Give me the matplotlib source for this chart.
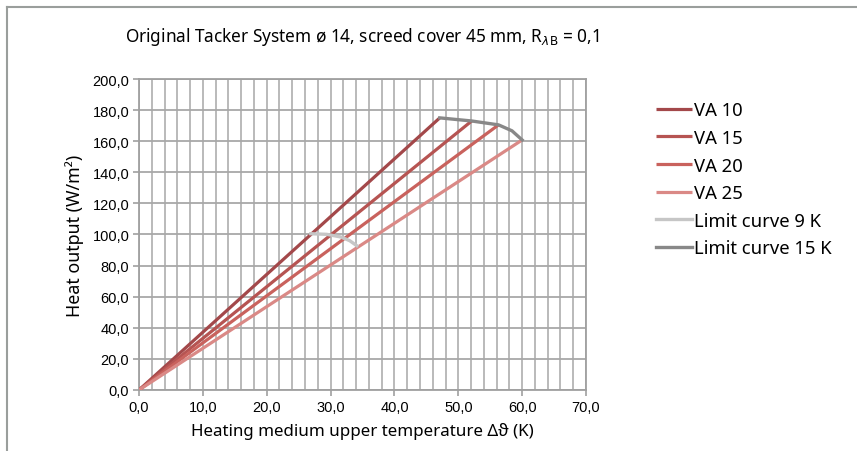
import numpy as np
import matplotlib
matplotlib.use('Agg')
import matplotlib.pyplot as plt
from matplotlib.lines import Line2D

plt.rcParams['font.family'] = ['Noto Sans', 'DejaVu Sans']

# end points of the heating lines (all start at the origin)
va_labels = ['VA 10', 'VA 15', 'VA 20', 'VA 25']
va_dt_end = [47.1, 52.1, 56.3, 60.0]
va_q_end = [175.0, 173.0, 170.5, 160.8]
va_colors = ['#a3484a', '#b65452', '#c9625d', '#da8986']

limit9_dt = [26.9, 29.4, 31.6, 33.0, 34.1]
limit9_q = [100.5, 100.1, 98.4, 96.0, 92.8]
limit15_dt = [47.1, 52.1, 56.3, 58.4, 60.0]
limit15_q = [175.0, 173.0, 170.5, 166.7, 160.8]

x_ticks = np.arange(0, 71, 10)
y_ticks = np.arange(0, 201, 20)

fig = plt.figure(figsize=(8.57, 4.52), dpi=100)
ax = fig.add_axes([0.1622, 0.135, 0.5216, 0.688])

for lab, x1, y1, c in zip(va_labels, va_dt_end, va_q_end, va_colors):
    ax.plot([0, x1], [0, y1], color=c, lw=2.3, label=lab, solid_capstyle='butt', zorder=3)
ax.plot(limit9_dt, limit9_q, color='#c6c6c6', lw=2.4, label='Limit curve 9 K', zorder=4)
ax.plot(limit15_dt, limit15_q, color='#888888', lw=2.4, label='Limit curve 15 K', zorder=4)

ax.set_xlim(0, 70)
ax.set_ylim(0, 200)
ax.set_xticks(x_ticks)
ax.set_xticks(np.arange(0, 71, 2), minor=True)
ax.set_yticks(y_ticks)
ax.set_xticklabels([f'{v:.1f}'.replace('.', ',') for v in x_ticks], family='Liberation Sans', fontsize=10.5)
ax.set_yticklabels([f'{v:.1f}'.replace('.', ',') for v in y_ticks], family='Liberation Sans', fontsize=10.5)
ax.grid(True, which='both', axis='x', color='#b4b4b4', lw=1.3)
ax.grid(True, which='major', axis='y', color='#a8a8a8', lw=1.3)
ax.tick_params(which='major', length=4, color='#a0a0a0', width=1.2, pad=3)
ax.tick_params(which='minor', length=0)
for s in ax.spines.values():
    s.set_color('#a0a0a0')
    s.set_linewidth(1.3)

ax.set_xlabel('Heating medium upper temperature Δϑ (K)', fontsize=12.2, labelpad=6)
ax.set_ylabel('Heat output (W/m²)', fontsize=12.8, labelpad=6)
fig.text(0.423, 0.918, r'Original Tacker System ø 14, screed cover 45 mm, R$_{\lambda\mathrm{B}}$ = 0,1',
         ha='center', va='center', fontsize=12.4)

fig.legend(loc='upper left', bbox_to_anchor=(0.757, 0.79), frameon=False, fontsize=13.3,
           handlelength=1.95, handletextpad=0.1, labelspacing=0.52, borderaxespad=0)

# frame lines along top and left edge
fig.add_artist(Line2D([0.008, 1.0], [0.982, 0.982], color='#9a9e9c', lw=1.5, transform=fig.transFigure))
fig.add_artist(Line2D([0.008, 0.008], [0.0, 0.982], color='#9a9e9c', lw=1.5, transform=fig.transFigure))

fig.savefig('out.png', dpi=100)
